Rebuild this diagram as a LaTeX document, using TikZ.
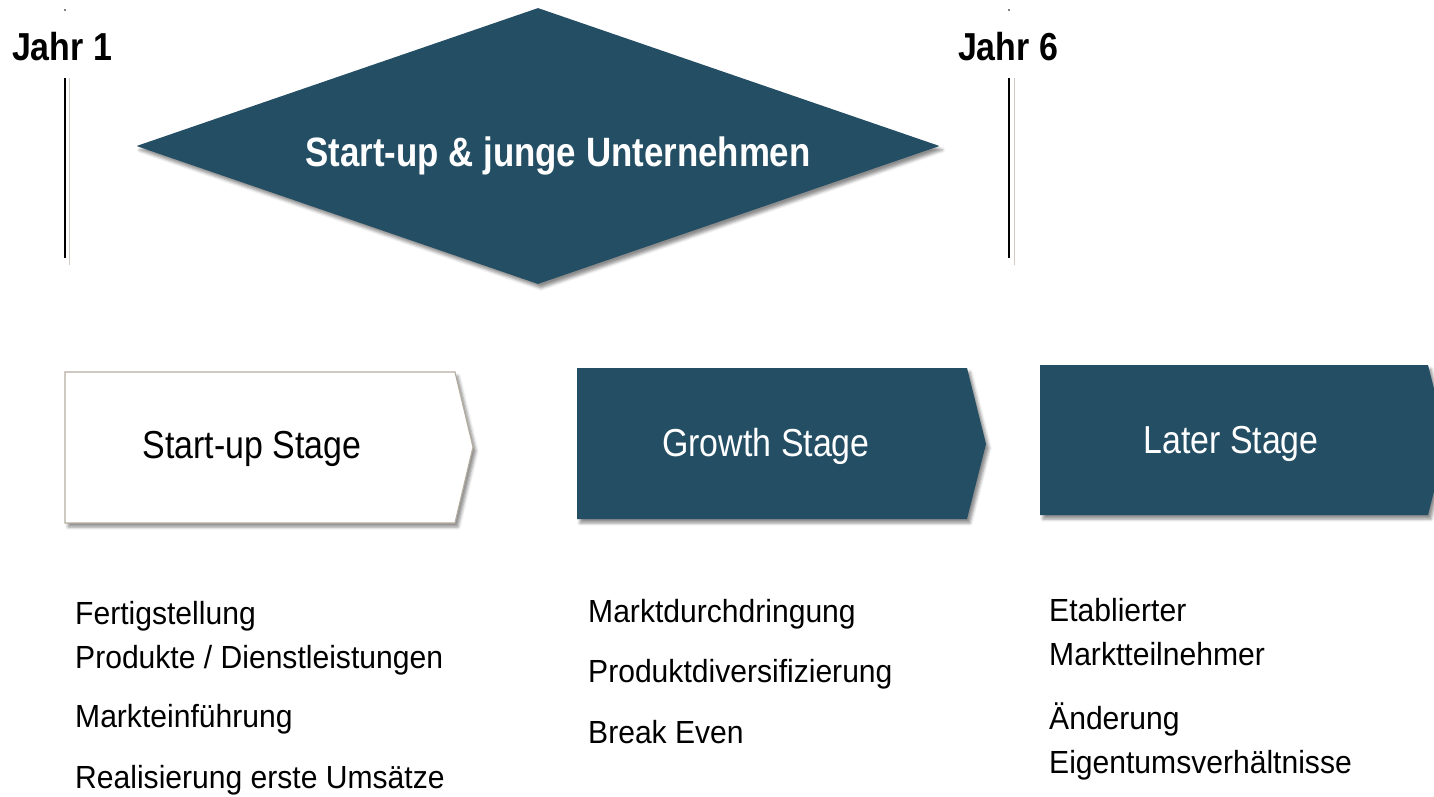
\documentclass[tikz,border=0pt]{standalone}
\usepackage{fontspec}
\setmainfont{Liberation Sans}[FakeStretch=0.94]
\newfontfamily\narrowsans{Liberation Sans}[FakeStretch=0.87]
\newfontfamily\corefont{Liberation Sans}[FakeStretch=0.85]
\usetikzlibrary{shapes.geometric,shadows.blur}
\definecolor{stageblue}{RGB}{35,78,100}
\definecolor{rimgray}{RGB}{180,172,160}
\definecolor{palegray}{RGB}{208,203,196}
\tikzset{
  phase/.style={blur shadow={shadow xshift=3pt, shadow yshift=-4pt, shadow blur radius=3pt, shadow opacity=45}},
  yeartext/.style={font=\narrowsans\bfseries\fontsize{39}{47}\selectfont, anchor=base, inner sep=0},
  stagetext/.style={font=\narrowsans\fontsize{39}{47}\selectfont, anchor=base, inner sep=0},
  itemtext/.style={font=\fontsize{32}{44}\selectfont, anchor=base west, align=left, inner sep=0},
}
\begin{document}
\begin{tikzpicture}[x=1pt,y=-1pt]
  \useasboundingbox (0,0) rectangle (1434,796);
  \clip (0,0) rectangle (1434,796);
  % Zeitachse
  \fill (65,10) circle (0.8);
  \fill (1009,10) circle (0.8);
  \node[yeartext] (jahr1) at (62,60) {Jahr 1};
  \node[yeartext] (jahr6) at (1008,60) {Jahr 6};
  \draw[line width=2pt] (65,78) -- (65,258);
  \draw[palegray, line width=1.5pt] (69.5,78) -- (69.5,265);
  \draw[line width=2pt] (1009,78) -- (1009,258);
  \draw[palegray, line width=1.5pt] (1014.5,78) -- (1014.5,265);
  % Raute
  \node[diamond, fill=stageblue, phase, minimum width=803pt, minimum height=276pt, inner sep=0] (core) at (538,146) {};
  \node[anchor=base, inner sep=0, text=white, font=\corefont\bfseries\fontsize{41}{49}\selectfont] (coretext) at (558,166) {Start-up \& junge Unternehmen};
  % Phasen
  \draw[rimgray, line width=1.2pt, fill=white, phase] (65,372) -- (455,372) -- (473,447) -- (455,523) -- (65,523) -- cycle;
  \fill[stageblue, phase] (577,368) -- (967,368) -- (986,444) -- (967,519) -- (577,519) -- cycle;
  \fill[stageblue, phase] (1040,365) -- (1428,365) -- (1447,440) -- (1428,515) -- (1040,515) -- cycle;
  \node[stagetext] (startup) at (252,458) {Start-up Stage};
  \node[stagetext, text=white] (growth) at (766,456) {Growth Stage};
  \node[stagetext, text=white] (later) at (1231,453) {Later Stage};
  % Merkmale (Basislinie der letzten Zeile)
  \node[itemtext] (s1) at (75,668) {Fertigstellung\\Produkte / Dienstleistungen};
  \node[itemtext] (s2) at (75,727) {Markteinführung};
  \node[itemtext] (s3) at (75,788) {Realisierung erste Umsätze};
  \node[itemtext] (g1) at (588,622) {Marktdurchdringung};
  \node[itemtext] (g2) at (588,682) {Produktdiversifizierung};
  \node[itemtext] (g3) at (588,743) {Break Even};
  \node[itemtext] (l1) at (1049,665) {Etablierter\\Marktteilnehmer};
  \node[itemtext] (l2) at (1049,773) {Änderung\\Eigentumsverhältnisse};
\end{tikzpicture}
\end{document}
